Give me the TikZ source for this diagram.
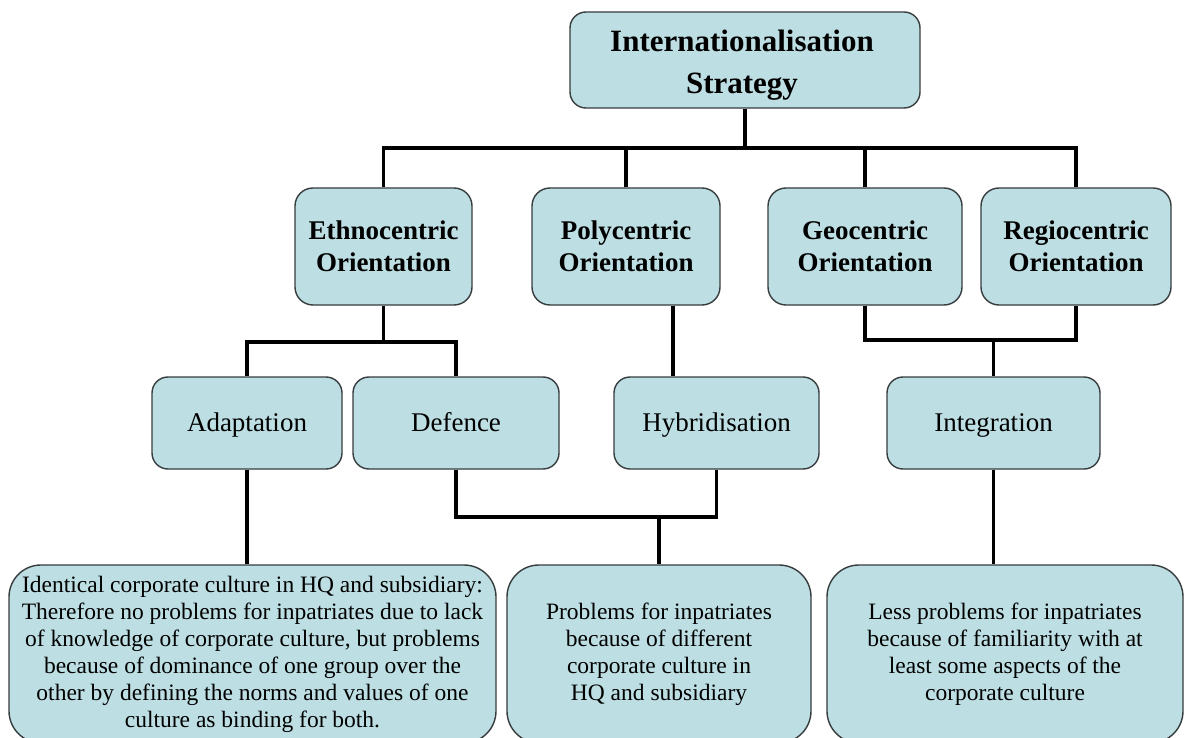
\documentclass[tikz,border=0pt]{standalone}
\usepackage{fontspec}
\setmainfont{Liberation Serif}
\definecolor{boxfill}{RGB}{189,223,228}
\definecolor{boxline}{RGB}{55,60,62}
\begin{document}
\begin{tikzpicture}[x=1pt,y=-1pt,
 box/.style={draw=boxline, line width=1.4pt, fill=boxfill, inner sep=0pt, align=center},
 toptxt/.style={font=\fontsize{31}{42}\selectfont\bfseries, align=center, inner sep=0pt},
 orient/.style={box, rounded corners=18pt, minimum height=117pt, font=\fontsize{27}{32}\selectfont\bfseries},
 mode/.style={box, rounded corners=16pt, minimum height=92pt, text height=21pt, text depth=5pt, font=\fontsize{27}{32}\selectfont},
 result/.style={box, rounded corners=32pt, minimum height=178pt, font=\fontsize{23.5}{27}\selectfont},
 link/.style={draw=black, line width=3.8pt, line join=miter}
]
\clip (0,0) rectangle (1186,738);
\fill[white] (0,0) rectangle (1186,738);

\node[box, rounded corners=16pt, minimum width=350pt, minimum height=96pt] (top) at (745,60) {};
\node[toptxt] (toplabel) at (742,65) {Internationalisation\\Strategy};

\node[orient, minimum width=177pt] (eth) at (383.5,246.5) {Ethnocentric\\Orientation};
\node[orient, minimum width=188pt] (poly) at (626,246.5) {Polycentric\\Orientation};
\node[orient, minimum width=194pt] (geo) at (865,246.5) {Geocentric\\Orientation};
\node[orient, minimum width=190pt] (regio) at (1076,246.5) {Regiocentric\\Orientation};

\node[mode, minimum width=190pt] (adapt) at (247,423) {Adaptation};
\node[mode, minimum width=206pt] (def) at (456,423) {Defence};
\node[mode, minimum width=205pt] (hyb) at (716.5,423) {Hybridisation};
\node[mode, minimum width=213pt] (integ) at (993.5,423) {Integration};

\node[result, minimum width=487pt] (b1) at (252.5,654) {Identical corporate culture in HQ and subsidiary:\\Therefore no problems for inpatriates due to lack\\of knowledge of corporate culture, but problems\\because of dominance of one group over the\\other by defining the norms and values of one\\culture as binding for both.};
\node[result, minimum width=304pt] (b2) at (659,654) {Problems for inpatriates\\because of different\\corporate culture in\\HQ and subsidiary};
\node[result, minimum width=356pt] (b3) at (1005,654) {Less problems for inpatriates\\because of familiarity with at\\least some aspects of the\\corporate culture};

% connectors
\coordinate (bus1) at (745,148);
\draw[link] (top.south) -- (bus1);
\draw[link] (eth.north) |- (regio.north |- bus1) -- (regio.north);
\draw[link] (poly.north) -- (poly.north |- bus1);
\draw[link] (geo.north) -- (geo.north |- bus1);

\coordinate (bus2) at (383.5,342);
\draw[link] (eth.south) -- (bus2);
\draw[link] (adapt.north) |- (def.north |- bus2) -- (def.north);

\coordinate (ph) at (673,0);
\draw[link] (ph |- poly.south) -- (ph |- hyb.north);

\coordinate (bus3) at (993.5,340);
\draw[link] (geo.south) |- (regio.south |- bus3) -- (regio.south);
\draw[link] (bus3) -- (integ.north);

\coordinate (bus4) at (659,517);
\draw[link] (def.south) |- (hyb.south |- bus4) -- (hyb.south);
\draw[link] (bus4) -- (b2.north);

\draw[link] (adapt.south) -- (adapt.south |- b1.north);
\draw[link] (integ.south) -- (integ.south |- b3.north);
\end{tikzpicture}
\end{document}
